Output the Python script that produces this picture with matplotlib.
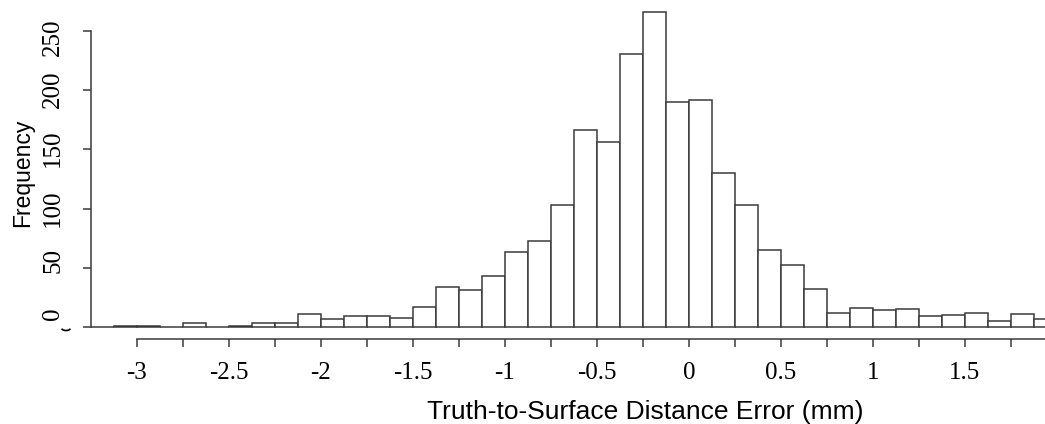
import numpy as np
import matplotlib
matplotlib.use('Agg')
import matplotlib.pyplot as plt
import matplotlib.patches as mpatches
from matplotlib.transforms import blended_transform_factory, offset_copy

# ---------------------------------------------------------------------------
# Data: histogram of truth-to-surface distance error, bin width 0.125 mm
# ---------------------------------------------------------------------------
bin_start = -3.25
bin_width = 0.125
counts = [0, 1, 1, 0, 3, 0, 1, 3, 3, 11,
          7, 9, 9, 8, 17, 34, 31, 43, 63, 73,
          103, 166, 156, 231, 266, 190, 192, 130, 103, 65,
          52, 32, 12, 16, 14, 15, 9, 10, 12, 5,
          11, 7]
edges = bin_start + bin_width * np.arange(len(counts) + 1)

x_major = [-3, -2.5, -2, -1.5, -1, -0.5, 0, 0.5, 1, 1.5]
x_labels = ['-3', '-2.5', '-2', '-1.5', '-1', '-0.5', '0', '0.5', '1', '1.5']
x_minor = [-2.75, -2.25, -1.75, -1.25, -0.75, -0.25, 0.25, 0.75, 1.25, 1.75]
y_ticks = [0, 50, 100, 150, 200, 250]

W, H = 1045, 424
fig = plt.figure(figsize=(W / 100, H / 100), dpi=100)

# axes placed in pixel units so the layout matches the original R plot
left, right, top, bottom = 91, 1045, 0, 339.3
ax = fig.add_axes([left / W, 1 - bottom / H, (right - left) / W, (bottom - top) / H])

line_col = '#3a3a3a'
ax.bar(edges[:-1], counts, width=bin_width, align='edge',
       facecolor='white', edgecolor=line_col, linewidth=1.1)

ax.set_xlim(-3.25, 1.935)
ax.set_ylim(-10.4, 276.2)

for s in ('top', 'right'):
    ax.spines[s].set_visible(False)
ax.spines['left'].set_bounds(0, 250)
ax.spines['bottom'].set_bounds(-3, 2.0)
for s in ('left', 'bottom'):
    ax.spines[s].set_color(line_col)
    ax.spines[s].set_linewidth(1.1)

serif = ['Liberation Serif', 'DejaVu Serif']
ax.set_xticks(x_major)
ax.set_xticklabels(x_labels, family=serif, fontsize=18)
ax.set_xticks(x_minor, minor=True)
ax.tick_params(axis='both', which='both', length=6, width=1.1, color=line_col)
ax.tick_params(axis='x', which='major', pad=10)

# y tick labels: rotated, end of each string sits ~19 px above its tick
ax.set_yticks(y_ticks)
ax.set_yticklabels([])
trans = blended_transform_factory(ax.transAxes, ax.transData)
for v in y_ticks:
    shift = 13 if v == 250 else 19.5
    ax.text(-0.0398, v, str(v), rotation=90, ha='center', va='top',
            family=serif, fontsize=18,
            transform=offset_copy(trans, fig=fig, y=shift, units='dots'))

ax.set_xlabel('Truth-to-Surface Distance Error (mm)', family='Liberation Sans',
              fontsize=19)
ax.xaxis.label.set_va('baseline')
ax.xaxis.set_label_coords(0.5807, -0.2349)

ax.set_ylabel('Frequency', family='Liberation Sans', fontsize=16.5)
ax.yaxis.label.set_va('center')
ax.yaxis.set_label_coords(-0.0713, 0.4916)

# small clipped glyph fragment below the "0" label in the original
arc = mpatches.Arc((66 / W, 1 - 328 / H), 9 / W, 5 / H, theta1=200, theta2=340,
                   transform=fig.transFigure, color='black', linewidth=1.2)
fig.patches.append(arc)

plt.savefig('out.png', dpi=100)
